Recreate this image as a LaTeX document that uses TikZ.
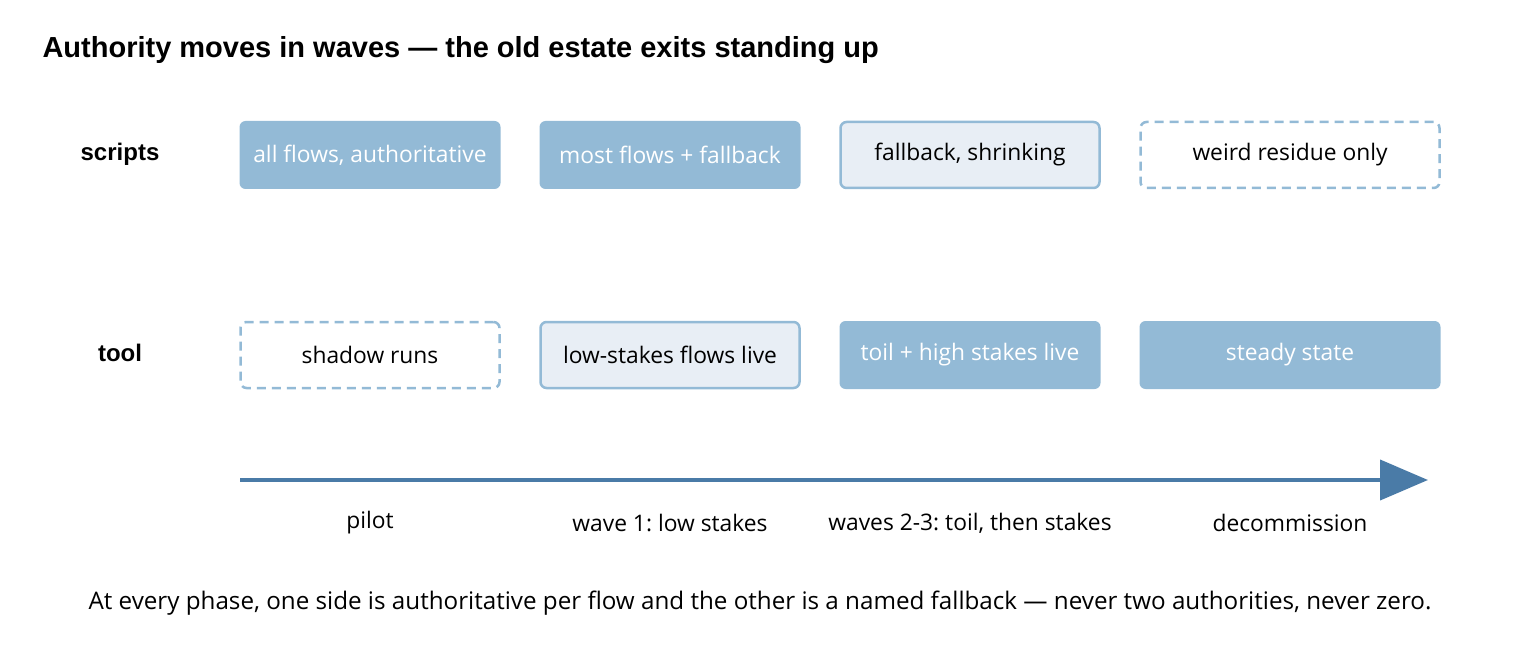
\documentclass[tikz,border=0pt]{standalone}
\usepackage{fontspec}
\setmainfont{Open Sans}
\newfontfamily\headfont{Liberation Sans}
\frenchspacing
\usetikzlibrary{positioning,arrows.meta}
\definecolor{boxblue}{HTML}{93BAD6}
\definecolor{boxpale}{HTML}{E8EEF5}
\definecolor{axisblue}{HTML}{4A7BA7}
\tikzset{
	phase/.style={rounded corners=6pt,minimum width=261pt,minimum height=68pt,inner sep=0pt,font=\fontsize{22.8}{26}\selectfont},
	solid phase/.style={phase,fill=boxblue,text=white},
	pale phase/.style={phase,fill=boxpale,draw=boxblue,line width=2.5pt,minimum width=259pt,minimum height=66pt},
	ghost phase/.style={phase,fill=white,draw=boxblue,line width=2.5pt,dash pattern=on 9pt off 6pt,minimum width=259pt,minimum height=66pt},
	rowlabel/.style={font=\headfont\bfseries\fontsize{24}{28}\selectfont},
	steplabel/.style={font=\fontsize{22.8}{26}\selectfont}
}
\begin{document}
\begin{tikzpicture}[x=1pt,y=-1pt]
	\useasboundingbox (0,0) rectangle (1520,660);
	\node[anchor=west,font=\headfont\bfseries\fontsize{29}{33}\selectfont] (title) at (39,50) {Authority moves in waves — the old estate exits standing up};
	% rows
	\node[rowlabel] (scripts) at (120,154) {scripts};
	\node[rowlabel] (tool) at (120,353) {tool};
	\node[solid phase] (s1) at (370,155) {all flows, authoritative};
	\node[solid phase] (s2) at (670,155) {most flows + fallback};
	\node[pale phase] (s3) at (970,155) {fallback, shrinking};
	\node[ghost phase,minimum width=299pt] (s4) at (1290,155) {weird residue only};
	\node[ghost phase] (t1) at (370,355) {shadow runs};
	\node[pale phase] (t2) at (670,355) {low-stakes flows live};
	\node[solid phase] (t3) at (970,355) {toil + high stakes live};
	\node[solid phase,minimum width=301pt] (t4) at (1290,355) {steady state};
	% time axis
	\coordinate (a0) at (240,480);
	\coordinate (a1) at (1428,480);
	\draw[axisblue,line width=4pt,-{Triangle[length=48pt,width=40pt]}] (a0) -- (a1);
	\node[steplabel] (p1) at (370,523) {pilot};
	\node[steplabel] (p2) at (670,523) {wave 1: low stakes};
	\node[steplabel] (p3) at (970,523) {waves 2-3: toil, then stakes};
	\node[steplabel] (p4) at (1290,523) {decommission};
	\node[font=\fontsize{24.2}{28}\selectfont] (note) at (760,603) {At every phase, one side is authoritative per flow and the other is a named fallback — never two authorities, never zero.};
\end{tikzpicture}
\end{document}
